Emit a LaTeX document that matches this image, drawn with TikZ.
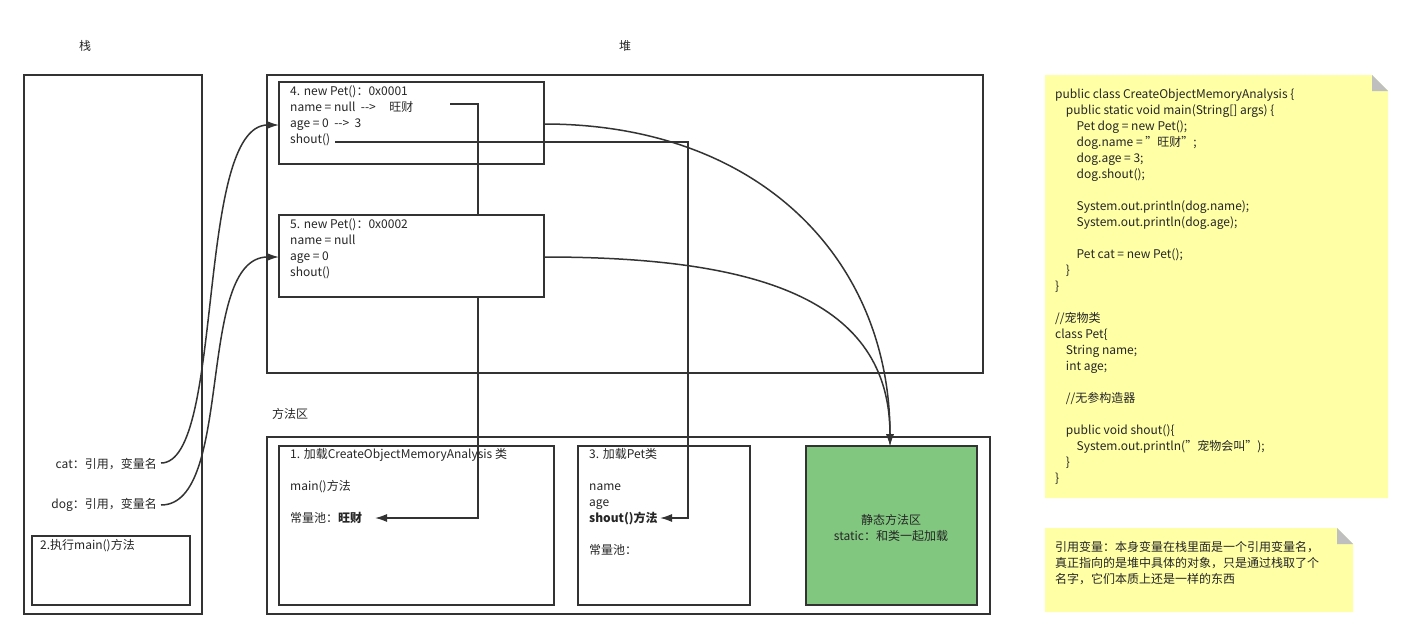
\documentclass[tikz,border=0pt]{standalone}
\usepackage{fontspec}
\setmainfont{Noto Sans CJK SC}
\usetikzlibrary{arrows.meta}
\begin{document}
\begin{tikzpicture}[x=1pt,y=-1pt,
  box/.style={draw=black!80,line width=1.5pt,fill=white},
  txt/.style={font=\fontsize{12}{16}\selectfont,anchor=north west,inner sep=0pt,align=left,text=black!85},
  wire/.style={draw=black!80,line width=1.5pt},
  arr/.style={wire,-{Latex[length=12pt,width=8pt]}}]
\useasboundingbox (0,0) rectangle (1414,640);
\node[txt,anchor=center] (tz) at (85,46) {栈};
\node[txt,anchor=center] (td) at (625,46) {堆};
\draw[box] (24,75) rectangle (202,614);
\draw[box] (267,75) rectangle (983,373);
\node[txt,anchor=center] (mlab) at (290,414) {方法区};
\draw[box] (267,437) rectangle (990,614);
\draw[box] (279,446) rectangle (554,605);
\draw[box] (578,446) rectangle (750,605);
\fill[fill={rgb,255:red,130;green,199;blue,128}] (806,446) rectangle (977,605);
\draw[draw=black!80,line width=1.5pt] (806,446) rectangle (977,605);
\node[txt] (c1) at (290,448) {1. 加载CreateObjectMemoryAnalysis 类\\[16pt]main()方法\\[16pt]常量池：\textbf{旺财}};
\node[txt] (c3) at (589,448) {3. 加载Pet类\\[16pt]name\\age\\\textbf{shout()方法}\\[16pt]常量池：};
% wires
\coordinate (wc1) at (450,104);
\coordinate (wc2) at (478,104);
\coordinate (wc3) at (478,518);
\coordinate (ws1) at (335,142);
\coordinate (ws2) at (688,142);
\coordinate (ws3) at (688,518);
\coordinate (a1) at (375,518);
\coordinate (a2) at (660,518);
\draw[arr] (wc1) -- (wc2) -- (wc3) -- (a1);
\draw[arr] (ws1) -- (ws2) -- (ws3) -- (a2);
\draw[box] (279,82) rectangle (544,164);
\draw[box] (279,215) rectangle (544,297);
\draw[wire] (wc1) -- (wc2) -- (478,164);
\draw[wire] (ws1) -- (ws2);
\node[txt] (o1) at (290,85) {4. new Pet()：0x0001\\name = null~~-{}-{}>~~~~~旺财\\age = 0~~-{}-{}>~~3\\shout()};
\node[txt] (o2) at (290,218) {5. new Pet()：0x0002\\name = null\\age = 0\\shout()};
\node[txt,anchor=center,align=center] (st) at (891,528) {静态方法区\\static：和类一起加载};
\coordinate (gt) at (890,446);
\draw[arr] (544,124) .. controls (760,124) and (890,260) .. (gt);
\draw[arr] (544,257) .. controls (760,257) and (890,300) .. (gt);
% stack
\node[txt,anchor=east] (cat) at (157,464) {cat：引用，变量名};
\node[txt,anchor=east] (dog) at (157,505) {dog：引用，变量名};
\draw[box] (32,536) rectangle (190,605);
\node[txt] (mm) at (40,539) {2.执行main()方法};
\draw[arr] (161,463) .. controls (225,463) and (195,125) .. (279,125);
\draw[arr] (161,505) .. controls (235,505) and (195,257) .. (279,257);
% notes
\fill[fill={rgb,255:red,255;green,255;blue,166}] (1045,75) -- (1372,75) -- (1388,91) -- (1388,498) -- (1045,498) -- cycle;
\fill[black!25] (1372,75) -- (1388,91) -- (1372,91) -- cycle;
\node[txt] (code) at (1055,89) {public class CreateObjectMemoryAnalysis \{\\
~~~~public static void main(String[] args) \{\\
~~~~~~~~Pet dog = new Pet();\\
~~~~~~~~dog.name = \char"22旺财\char"22;\\
~~~~~~~~dog.age = 3;\\
~~~~~~~~dog.shout();\\[16pt]
~~~~~~~~System.out.println(dog.name);\\
~~~~~~~~System.out.println(dog.age);\\[16pt]
~~~~~~~~Pet cat = new Pet();\\
~~~~\}\\
\}\\[16pt]
//宠物类\\
class Pet\{\\
~~~~String name;\\
~~~~int age;\\[16pt]
~~~~//无参构造器\\[16pt]
~~~~public void shout()\{\\
~~~~~~~~System.out.println(\char"22宠物会叫\char"22);\\
~~~~\}\\
\}};
\fill[fill={rgb,255:red,255;green,255;blue,166}] (1045,528) -- (1337,528) -- (1353,544) -- (1353,612) -- (1045,612) -- cycle;
\fill[black!25] (1337,528) -- (1353,544) -- (1337,544) -- cycle;
\node[txt] (note) at (1055,541) {引用变量：本身变量在栈里面是一个引用变量名，\\真正指向的是堆中具体的对象，只是通过栈取了个\\名字，它们本质上还是一样的东西};
\end{tikzpicture}
\end{document}
